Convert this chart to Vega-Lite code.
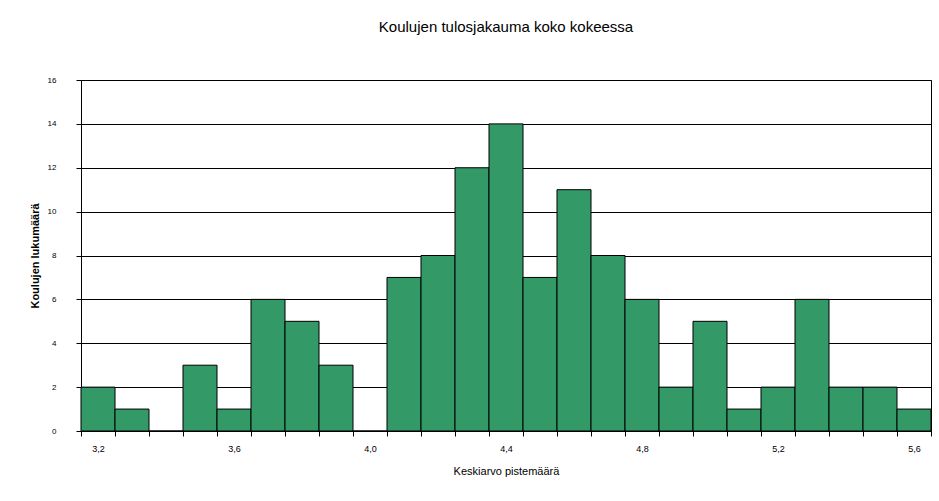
{
  "$schema": "https://vega.github.io/schema/vega-lite/v6.json",
  "autosize": "none",
  "width": 850,
  "height": 351,
  "padding": {"left": 81, "top": 80, "right": 8, "bottom": 70},
  "background": "white",
  "title": {
    "text": "Koulujen tulosjakauma koko kokeessa",
    "font": "Liberation Sans",
    "fontSize": 15,
    "fontWeight": "normal",
    "color": "black",
    "offset": 41,
    "anchor": "middle"
  },
  "data": {
    "values": [
      {"keskiarvo": "3,2", "lukumaara": 2},
      {"keskiarvo": "3,3", "lukumaara": 1},
      {"keskiarvo": "3,4", "lukumaara": 0},
      {"keskiarvo": "3,5", "lukumaara": 3},
      {"keskiarvo": "3,6", "lukumaara": 1},
      {"keskiarvo": "3,7", "lukumaara": 6},
      {"keskiarvo": "3,8", "lukumaara": 5},
      {"keskiarvo": "3,9", "lukumaara": 3},
      {"keskiarvo": "4,0", "lukumaara": 0},
      {"keskiarvo": "4,1", "lukumaara": 7},
      {"keskiarvo": "4,2", "lukumaara": 8},
      {"keskiarvo": "4,3", "lukumaara": 12},
      {"keskiarvo": "4,4", "lukumaara": 14},
      {"keskiarvo": "4,5", "lukumaara": 7},
      {"keskiarvo": "4,6", "lukumaara": 11},
      {"keskiarvo": "4,7", "lukumaara": 8},
      {"keskiarvo": "4,8", "lukumaara": 6},
      {"keskiarvo": "4,9", "lukumaara": 2},
      {"keskiarvo": "5,0", "lukumaara": 5},
      {"keskiarvo": "5,1", "lukumaara": 1},
      {"keskiarvo": "5,2", "lukumaara": 2},
      {"keskiarvo": "5,3", "lukumaara": 6},
      {"keskiarvo": "5,4", "lukumaara": 2},
      {"keskiarvo": "5,5", "lukumaara": 2},
      {"keskiarvo": "5,6", "lukumaara": 1}
    ]
  },
  "mark": {"type": "bar", "color": "#339966", "stroke": "black", "strokeWidth": 1},
  "encoding": {
    "x": {
      "field": "keskiarvo",
      "type": "ordinal",
      "sort": null,
      "scale": {"paddingInner": 0, "paddingOuter": 0},
      "axis": {
        "title": "Keskiarvo pistemäärä",
        "titleFont": "Liberation Sans",
        "titleFontSize": 11,
        "titleFontWeight": "normal",
        "titleColor": "black",
        "titlePadding": 12,
        "labelAngle": 0,
        "labelFont": "Liberation Sans",
        "labelFontSize": 9,
        "labelColor": "black",
        "labelPadding": 8,
        "labelExpr": "indexof(['3,2','3,6','4,0','4,4','4,8','5,2','5,6'], datum.value) >= 0 ? datum.value : ''",
        "tickBand": "extent",
        "tickColor": "black",
        "tickSize": 5,
        "domainColor": "black",
        "grid": false
      }
    },
    "y": {
      "field": "lukumaara",
      "type": "quantitative",
      "scale": {"domain": [0, 16]},
      "axis": {
        "title": "Koulujen lukumäärä",
        "titleFont": "Liberation Sans",
        "titleFontSize": 11,
        "titleFontWeight": "bold",
        "titleColor": "black",
        "titlePadding": 7,
        "values": [0, 2, 4, 6, 8, 10, 12, 14, 16],
        "labelFont": "Liberation Sans",
        "labelFontSize": 8,
        "labelColor": "black",
        "labelPadding": 20,
        "tickColor": "black",
        "tickSize": 5,
        "domainColor": "black",
        "grid": true,
        "gridColor": "black",
        "gridOpacity": 1
      }
    }
  },
  "config": {
    "view": {"stroke": "black", "strokeWidth": 1}
  }
}
